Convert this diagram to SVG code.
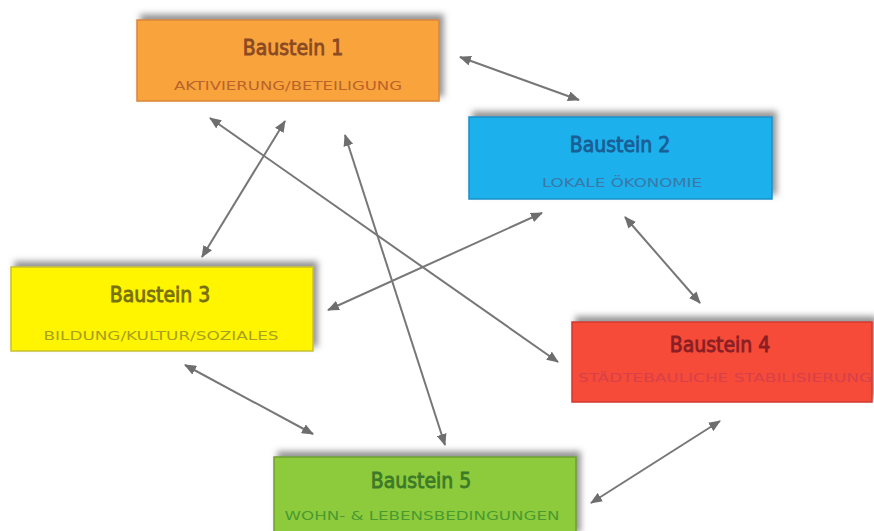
<svg xmlns="http://www.w3.org/2000/svg" width="874" height="531" viewBox="0 0 874 531">
<defs>
<filter id="sh" x="-10%" y="-30%" width="120%" height="160%">
<feDropShadow dx="4" dy="-5" stdDeviation="3" flood-color="#666" flood-opacity="0.7"/>
</filter>
<marker id="ah" viewBox="0 0 12 10" refX="11" refY="5" markerWidth="12" markerHeight="10" markerUnits="userSpaceOnUse" orient="auto-start-reverse">
<path d="M0,0 L12,5 L0,10 Z" fill="#6e6e6e"/>
</marker>
<style>
.box{filter:url(#sh);stroke-width:1.5}
.t{font-family:"DejaVu Sans Condensed","Liberation Sans",sans-serif;font-size:21px;font-weight:normal;stroke-width:0.8;text-anchor:middle}
.s{font-family:"DejaVu Sans Condensed","Liberation Sans",sans-serif;font-size:12px;text-anchor:middle}
.c line{stroke:#777;stroke-width:2;marker-start:url(#ah);marker-end:url(#ah)}
</style>
</defs>
<rect width="874" height="531" fill="#fff"/>
<g id="b1">
<rect class="box" x="137" y="20" width="302" height="81" fill="#F9A33C" stroke="#D9873A"/>
<text class="t" x="293" y="55" fill="#8A4A22" stroke="#8A4A22">Baustein 1</text>
<text class="s" x="288" y="90" fill="#B8642A" textLength="228" lengthAdjust="spacingAndGlyphs">AKTIVIERUNG/BETEILIGUNG</text>
</g>
<g id="b2">
<rect class="box" x="469" y="117" width="303" height="82" fill="#1BB0EC" stroke="#1890C8"/>
<text class="t" x="620" y="152" fill="#1A5E96" stroke="#1A5E96">Baustein 2</text>
<text class="s" x="622" y="187" fill="#3A78A8" textLength="160" lengthAdjust="spacingAndGlyphs">LOKALE ÖKONOMIE</text>
</g>
<g id="b3">
<rect class="box" x="11" y="267" width="302" height="84" fill="#FFF500" stroke="#C8C030"/>
<text class="t" x="160" y="302" fill="#77700E" stroke="#77700E">Baustein 3</text>
<text class="s" x="161" y="340" fill="#A8A020" textLength="235" lengthAdjust="spacingAndGlyphs">BILDUNG/KULTUR/SOZIALES</text>
</g>
<g id="b4">
<rect class="box" x="572" y="322" width="300" height="80" fill="#F54C37" stroke="#D03A30"/>
<text class="t" x="720" y="352" fill="#8A1E24" stroke="#8A1E24">Baustein 4</text>
<text class="s" x="725" y="382" fill="#D8404A" textLength="294" lengthAdjust="spacingAndGlyphs">STÄDTEBAULICHE STABILISIERUNG</text>
</g>
<g id="b5">
<rect class="box" x="274" y="457" width="302" height="80" fill="#8DCB3C" stroke="#6FA030"/>
<text class="t" x="421" y="488" fill="#3D7A28" stroke="#3D7A28">Baustein 5</text>
<text class="s" x="422" y="520" fill="#4A9A30" textLength="275" lengthAdjust="spacingAndGlyphs">WOHN- &amp; LEBENSBEDINGUNGEN</text>
</g>
<g id="connectors" class="c">
<line x1="460" y1="57" x2="579" y2="100"/>
<line x1="285" y1="121" x2="202" y2="257"/>
<line x1="210" y1="118" x2="558" y2="362"/>
<line x1="542" y1="213" x2="328" y2="310"/>
<line x1="625" y1="217" x2="700" y2="303"/>
<line x1="185" y1="365" x2="313" y2="434"/>
<line x1="720" y1="421" x2="591" y2="503"/>
<line x1="345" y1="135" x2="445" y2="445"/>
</g>
</svg>
